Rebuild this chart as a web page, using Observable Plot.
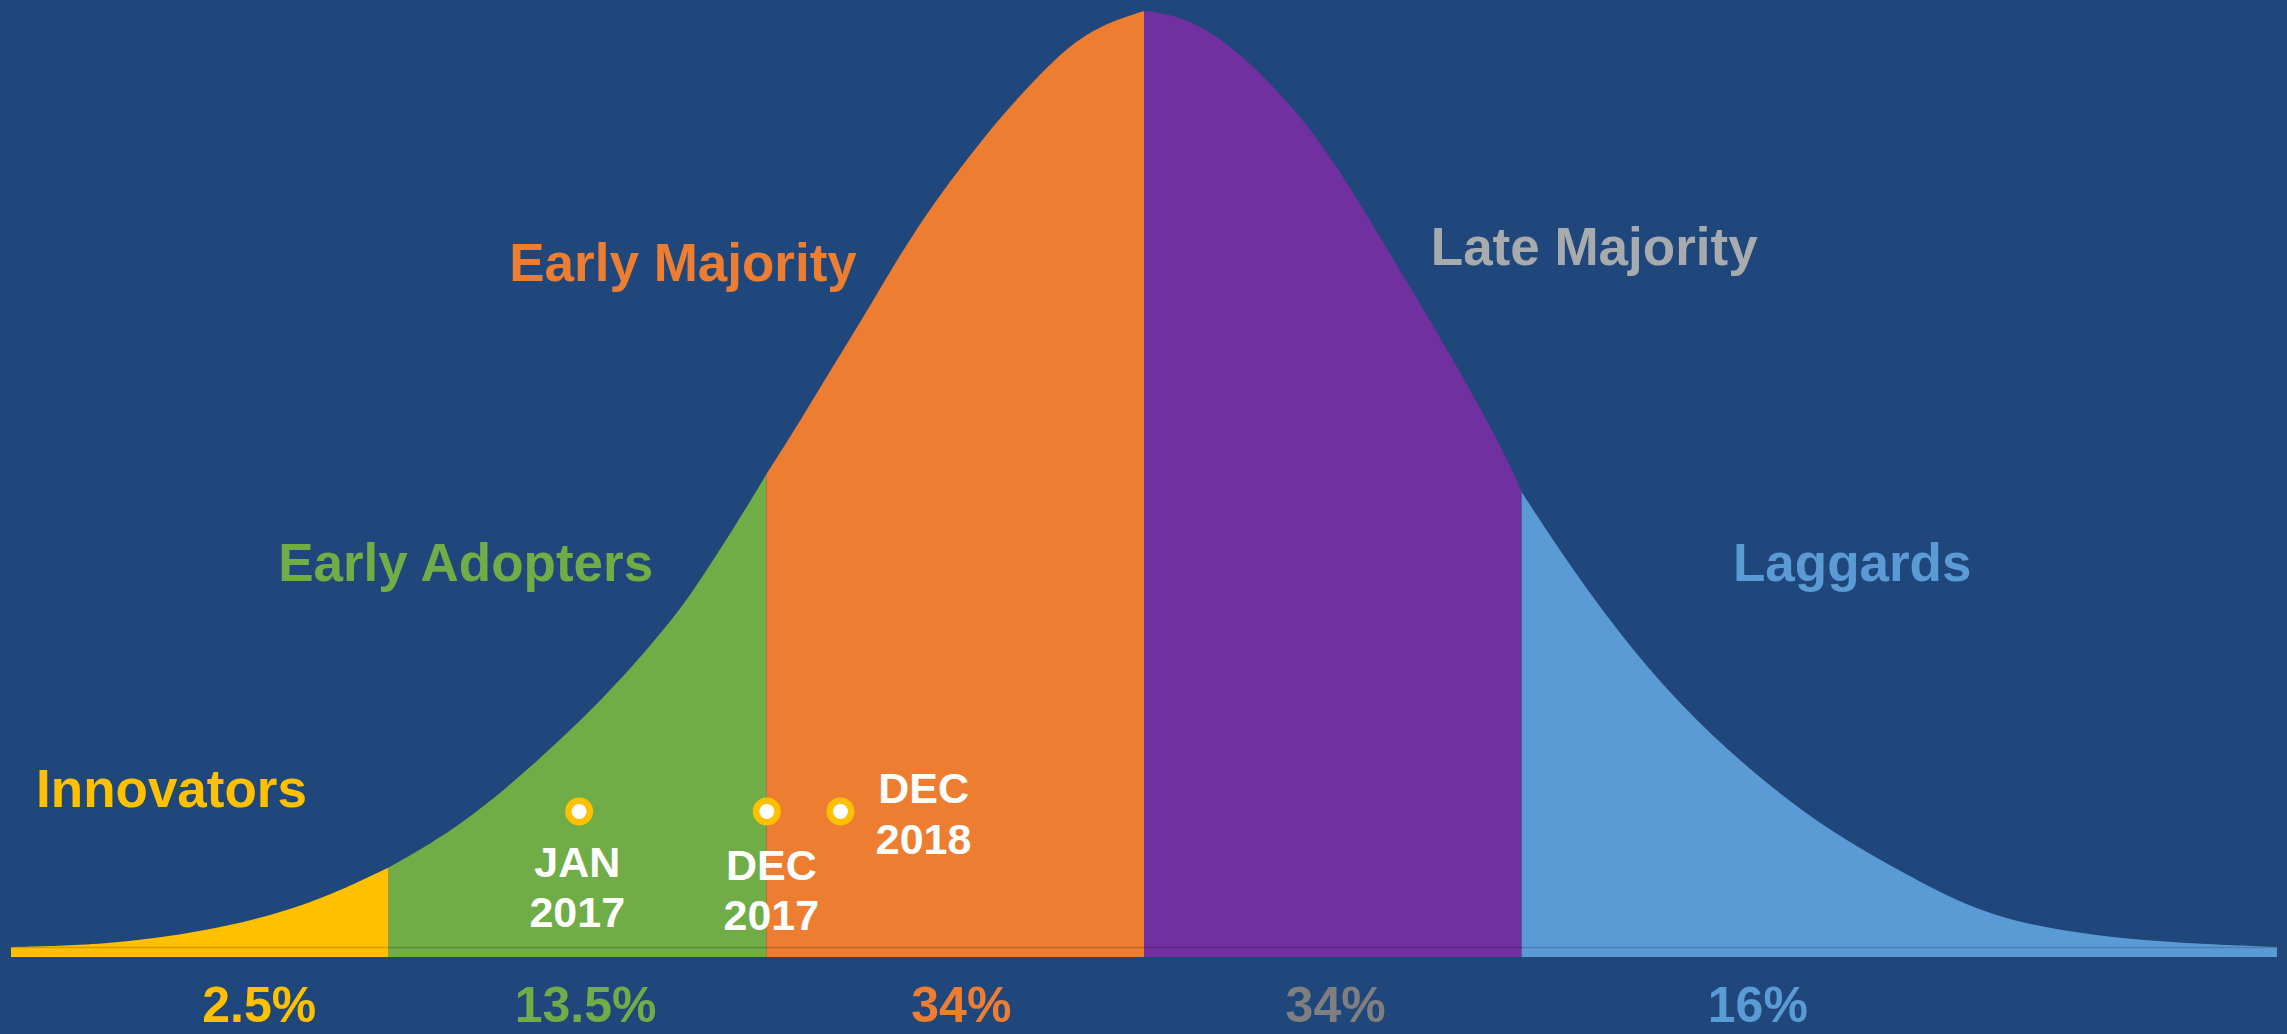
<!DOCTYPE html>
<html>
<head>
<meta charset="utf-8">
<script src="https://cdn.jsdelivr.net/npm/d3@7"></script>
<script src="https://cdn.jsdelivr.net/npm/@observablehq/plot@0.6"></script>
<style>
  html, body { margin: 0; padding: 0; background: #20477B; overflow: hidden; }
  #chart svg { display: block; }
</style>
</head>
<body>
<div id="chart"></div>
<script>
// ---- Data ----
const categories = ["Innovators", "Early Adopters", "Early Majority", "Late Majority", "Laggards"];
const shares = [2.5, 13.5, 34, 34, 16];                 // percent of adopters
const segmentEdges = [-3, -2, -1, 0, 1, 3];             // in standard deviations
// adoption curve: position (std devs from mean) and relative height (peak = 100)
const curveX = [-3.0, -2.757, -2.487, -2.217, -2.0, -1.812, -1.608, -1.407, -1.272, -1.203, -1.068, -1.0,
  -0.909, -0.821, -0.731, -0.644, -0.556, -0.466, -0.379, -0.291, -0.201, -0.114, 0,
  0.079, 0.170, 0.257, 0.344, 0.434, 0.522, 0.609, 0.699, 0.787, 0.874, 0.964, 1.0,
  1.118, 1.250, 1.412, 1.611, 1.809, 2.011, 2.209, 2.408, 2.675, 3.0];
const curveH = [0, 0.2, 1.6, 4.3, 8.5, 12.8, 19.7, 27.5, 33.9, 37.4, 45.9, 50.5,
  56.3, 62.2, 68.1, 74.1, 79.5, 84.3, 88.7, 92.6, 96.2, 98.5, 100,
  99.6, 98.0, 95.3, 91.9, 87.8, 82.7, 76.9, 70.9, 64.9, 58.8, 52.0, 48.6,
  41.3, 33.9, 26.1, 18.6, 12.5, 7.9, 3.7, 1.8, 0.5, 0];
// milestones on the curve
const milestoneLabels = ["JAN\n2017", "DEC\n2017", "DEC\n2018"];
const milestoneX = [-1.497, -1.0, -0.805];

// ---- Styling / layout (not data) ----
const areaColors = ["#FFC000", "#70AD47", "#ED7D31", "#7030A0", "#5B9BD5"];
const labelColors = ["#FFC000", "#70AD47", "#ED7D31", "#A7ABAE", "#5B9BD5"];
const pctColors = ["#FFC000", "#70AD47", "#ED7D31", "#7F7F7F", "#5B9BD5"];
const labelPos = [[-2.935, 15.06], [-2.294, 39.2], [-1.682, 71.2], [0.758, 72.9], [1.558, 39.2]];
const pctX = [-2.344, -1.48, -0.485, 0.506, 1.624];
const pctY = -8.0;
const markerY = 14.53;
const milestoneTextPos = [[-1.502, 2.14], [-0.988, 1.82], [-0.585, 10.04]];
const bandDepth = -1.07;

// build the curve table, one series per segment (boundary points shared)
const curve = curveX.map((x, i) => ({x, h: curveH[i]}));
const table = categories.flatMap((cat, i) =>
  curve.filter(p => p.x >= segmentEdges[i] && p.x <= segmentEdges[i + 1])
       .map(p => ({...p, segment: cat})));

const font = "'Liberation Sans', Arial, Helvetica, sans-serif";

const marks = [
  Plot.areaY(table, {x: "x", y1: bandDepth, y2: "h", fill: "segment", curve: "basis"}),
  Plot.ruleY([0], {x1: segmentEdges[0], x2: segmentEdges[segmentEdges.length - 1], stroke: "#000", strokeOpacity: 0.18, strokeWidth: 1.5}),
];

categories.forEach((cat, i) => {
  marks.push(Plot.text([cat], {
    x: labelPos[i][0], y: labelPos[i][1], text: d => d,
    fill: labelColors[i], fontSize: 53, fontWeight: "bold",
    textAnchor: "start", lineAnchor: "bottom"
  }));
  marks.push(Plot.text([shares[i]], {
    x: pctX[i], y: pctY, text: d => d + "%",
    fill: pctColors[i], fontSize: 50, fontWeight: "bold",
    textAnchor: "middle", lineAnchor: "bottom"
  }));
});

const milestones = milestoneLabels.map((label, i) => ({label, x: milestoneX[i], tx: milestoneTextPos[i][0], ty: milestoneTextPos[i][1]}));
marks.push(
  Plot.dot(milestones, {x: "x", y: markerY, r: 14, fill: "#FFC000"}),
  Plot.dot(milestones, {x: "x", y: markerY, r: 7.5, fill: "#FFFFFF"}),
  Plot.text(milestones, {x: "tx", y: "ty", text: "label", fill: "#FFFFFF",
    fontSize: 43, fontWeight: "bold", textAnchor: "middle", lineAnchor: "bottom", lineHeight: 1.17})
);

const chart = Plot.plot({
  width: 2287,
  height: 1034,
  marginLeft: 11,
  marginRight: 10,
  marginTop: 11,
  marginBottom: 87,
  x: {domain: [-3, 3], axis: null},
  y: {domain: [0, 100], axis: null},
  color: {domain: categories, range: areaColors},
  style: {background: "#20477B", fontFamily: font, overflow: "visible"},
  marks
});
document.getElementById("chart").appendChild(chart);
</script>
</body>
</html>
